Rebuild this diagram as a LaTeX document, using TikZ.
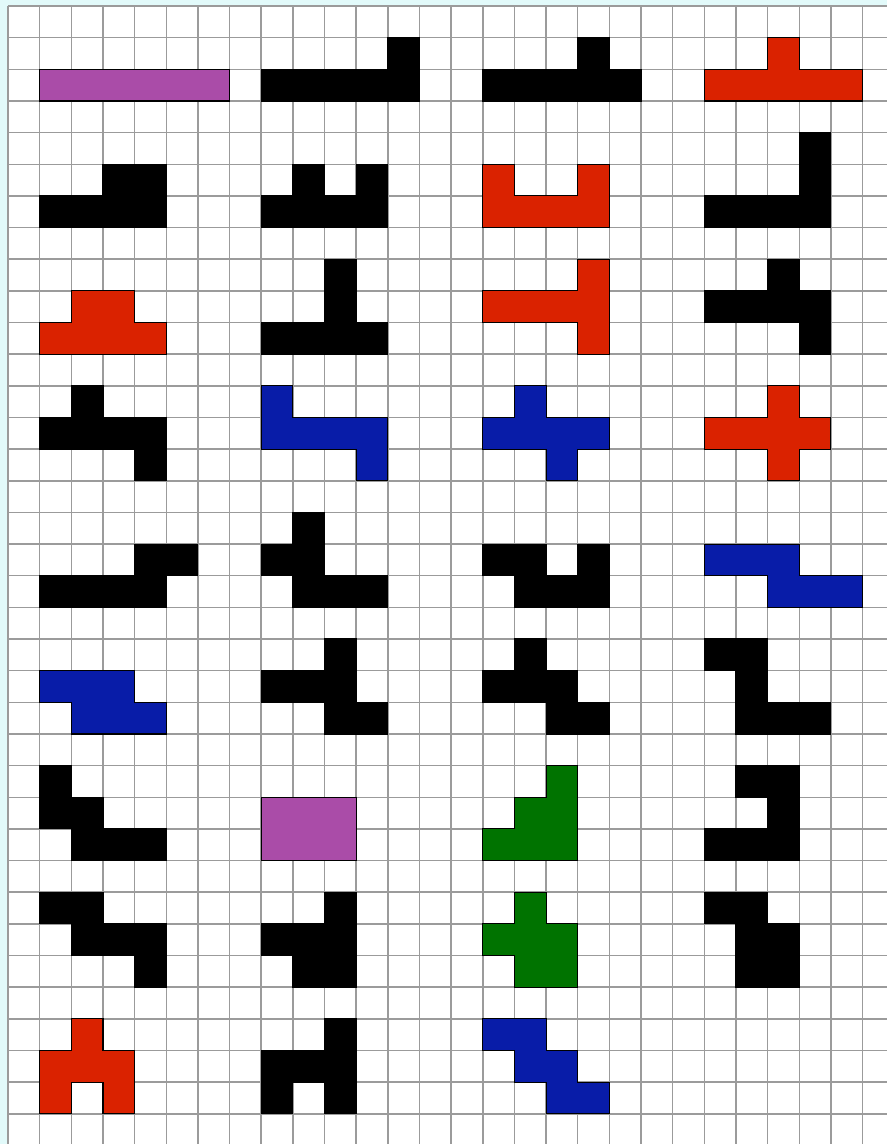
\documentclass[tikz,border=0pt]{standalone}
\usepackage{xcolor}
\definecolor{margincol}{RGB}{226,250,250}
\definecolor{gridcol}{RGB}{155,155,155}
\definecolor{hpurple}{RGB}{170,76,168}
\definecolor{hred}{RGB}{218,34,0}
\definecolor{hblue}{RGB}{8,28,168}
\definecolor{hgreen}{RGB}{0,115,0}
\tikzset{
  gl/.style={draw=gridcol, line width=1.5pt},
  hexo/.style={draw=black, line width=1.1pt, line join=miter},
  pk/.style={hexo, fill=black},
  pr/.style={hexo, fill=hred},
  pb/.style={hexo, fill=hblue},
  pg/.style={hexo, fill=hgreen},
  pp/.style={hexo, fill=hpurple}
}
\begin{document}
\begin{tikzpicture}[x=31.65pt, y=-31.65pt]
\useasboundingbox (-0.25276,-0.18957) rectangle (27.7725,35.9558);
\fill[margincol] (-0.25276,-0.18957) rectangle (27.7725,35.9558);
\fill[white] (0,0) rectangle (27.7725,35.9558);
\foreach \i in {0,...,27} \draw[gl] (\i,0) -- (\i,35.9558);
\foreach \j in {0,...,35} \draw[gl] (0,\j) -- (27.7725,\j);
% row 1
\draw[pp] (1,2) rectangle (7,3);
\draw[pk] (8,2)--(12,2)--(12,1)--(13,1)--(13,3)--(8,3)--cycle;
\draw[pk] (15,2)--(18,2)--(18,1)--(19,1)--(19,2)--(20,2)--(20,3)--(15,3)--cycle;
\draw[pr] (22,2)--(24,2)--(24,1)--(25,1)--(25,2)--(27,2)--(27,3)--(22,3)--cycle;
% row 2
\draw[pk] (1,6)--(3,6)--(3,5)--(5,5)--(5,7)--(1,7)--cycle;
\draw[pk] (8,6)--(9,6)--(9,5)--(10,5)--(10,6)--(11,6)--(11,5)--(12,5)--(12,7)--(8,7)--cycle;
\draw[pr] (15,5)--(16,5)--(16,6)--(18,6)--(18,5)--(19,5)--(19,7)--(15,7)--cycle;
\draw[pk] (22,6)--(25,6)--(25,4)--(26,4)--(26,7)--(22,7)--cycle;
% row 3
\draw[pr] (1,10)--(2,10)--(2,9)--(4,9)--(4,10)--(5,10)--(5,11)--(1,11)--cycle;
\draw[pk] (8,10)--(10,10)--(10,8)--(11,8)--(11,10)--(12,10)--(12,11)--(8,11)--cycle;
\draw[pr] (15,9)--(18,9)--(18,8)--(19,8)--(19,11)--(18,11)--(18,10)--(15,10)--cycle;
\draw[pk] (22,9)--(24,9)--(24,8)--(25,8)--(25,9)--(26,9)--(26,11)--(25,11)--(25,10)--(22,10)--cycle;
% row 4
\draw[pk] (1,13)--(2,13)--(2,12)--(3,12)--(3,13)--(5,13)--(5,15)--(4,15)--(4,14)--(1,14)--cycle;
\draw[pb] (8,12)--(9,12)--(9,13)--(12,13)--(12,15)--(11,15)--(11,14)--(8,14)--cycle;
\draw[pb] (15,13)--(16,13)--(16,12)--(17,12)--(17,13)--(19,13)--(19,14)--(18,14)--(18,15)--(17,15)--(17,14)--(15,14)--cycle;
\draw[pr] (22,13)--(24,13)--(24,12)--(25,12)--(25,13)--(26,13)--(26,14)--(25,14)--(25,15)--(24,15)--(24,14)--(22,14)--cycle;
% row 5
\draw[pk] (1,18)--(4,18)--(4,17)--(6,17)--(6,18)--(5,18)--(5,19)--(1,19)--cycle;
\draw[pk] (9,16)--(10,16)--(10,18)--(12,18)--(12,19)--(9,19)--(9,18)--(8,18)--(8,17)--(9,17)--cycle;
\draw[pk] (15,17)--(17,17)--(17,18)--(18,18)--(18,17)--(19,17)--(19,19)--(16,19)--(16,18)--(15,18)--cycle;
\draw[pb] (22,17)--(25,17)--(25,18)--(27,18)--(27,19)--(24,19)--(24,18)--(22,18)--cycle;
% row 6
\draw[pb] (1,21)--(4,21)--(4,22)--(5,22)--(5,23)--(2,23)--(2,22)--(1,22)--cycle;
\draw[pk] (10,20)--(11,20)--(11,22)--(12,22)--(12,23)--(10,23)--(10,22)--(8,22)--(8,21)--(10,21)--cycle;
\draw[pk] (16,20)--(17,20)--(17,21)--(18,21)--(18,22)--(19,22)--(19,23)--(17,23)--(17,22)--(15,22)--(15,21)--(16,21)--cycle;
\draw[pk] (22,20)--(24,20)--(24,22)--(26,22)--(26,23)--(23,23)--(23,21)--(22,21)--cycle;
% row 7
\draw[pk] (1,24)--(2,24)--(2,25)--(3,25)--(3,26)--(5,26)--(5,27)--(2,27)--(2,26)--(1,26)--cycle;
\draw[pp] (8,25) rectangle (11,27);
\draw[pg] (17,24)--(18,24)--(18,27)--(15,27)--(15,26)--(16,26)--(16,25)--(17,25)--cycle;
\draw[pk] (23,24)--(25,24)--(25,27)--(22,27)--(22,26)--(24,26)--(24,25)--(23,25)--cycle;
% row 8
\draw[pk] (1,28)--(3,28)--(3,29)--(5,29)--(5,31)--(4,31)--(4,30)--(2,30)--(2,29)--(1,29)--cycle;
\draw[pk] (10,28)--(11,28)--(11,31)--(9,31)--(9,30)--(8,30)--(8,29)--(10,29)--cycle;
\draw[pg] (16,28)--(17,28)--(17,29)--(18,29)--(18,31)--(16,31)--(16,30)--(15,30)--(15,29)--(16,29)--cycle;
\draw[pk] (22,28)--(24,28)--(24,29)--(25,29)--(25,31)--(23,31)--(23,29)--(22,29)--cycle;
% row 9
\draw[pr] (2,32)--(3,32)--(3,33)--(4,33)--(4,35)--(3,35)--(3,34)--(2,34)--(2,35)--(1,35)--(1,33)--(2,33)--cycle;
\draw[pk] (10,32)--(11,32)--(11,35)--(10,35)--(10,34)--(9,34)--(9,35)--(8,35)--(8,33)--(10,33)--cycle;
\draw[pb] (15,32)--(17,32)--(17,33)--(18,33)--(18,34)--(19,34)--(19,35)--(17,35)--(17,34)--(16,34)--(16,33)--(15,33)--cycle;
\end{tikzpicture}
\end{document}
